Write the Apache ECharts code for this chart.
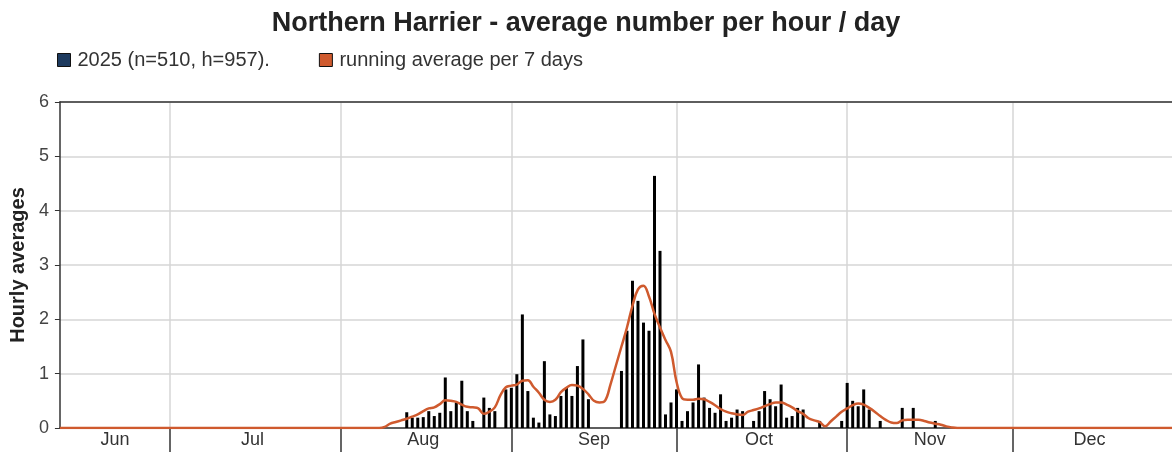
<!DOCTYPE html>
<html>
<head>
<meta charset="utf-8">
<script src="https://cdn.jsdelivr.net/npm/echarts@6/dist/echarts.min.js"></script>
<style>
  html, body { margin: 0; padding: 0; background: #fff; }
  #chart { width: 1172px; height: 452px; }
</style>
</head>
<body>
<div id="chart"></div>
<script>
// daily counts (hourly averages)
const barDays = [
  '08-13', '08-14', '08-15', '08-16', '08-17', '08-18', '08-19', '08-20', '08-21', '08-22', '08-23', '08-24', '08-25',
  '08-27', '08-28', '08-29', '08-31',
  '09-01', '09-02', '09-03', '09-04', '09-05', '09-06', '09-07', '09-08', '09-09', '09-10', '09-11', '09-12', '09-13', '09-14', '09-15',
  '09-21', '09-22', '09-23', '09-24', '09-25', '09-26', '09-27', '09-28', '09-29', '09-30',
  '10-01', '10-02', '10-03', '10-04', '10-05', '10-06', '10-07', '10-08', '10-09', '10-10', '10-11', '10-12', '10-13',
  '10-15', '10-16', '10-17', '10-18', '10-19', '10-20', '10-21', '10-22', '10-23', '10-24', '10-27', '10-31',
  '11-01', '11-02', '11-03', '11-04', '11-05', '11-07', '11-11', '11-13', '11-17'
]
const barValues = [
  0.29, 0.19, 0.19, 0.20, 0.31, 0.22, 0.28, 0.93, 0.31, 0.47, 0.87, 0.31, 0.13,
  0.56, 0.37, 0.31, 0.71,
  0.74, 0.99, 2.09, 0.68, 0.19, 0.10, 1.23, 0.25, 0.22, 0.59, 0.74, 0.59, 1.14, 1.63, 0.53,
  1.05, 1.79, 2.71, 2.34, 1.94, 1.79, 4.64, 3.26, 0.25, 0.47,
  0.71, 0.13, 0.31, 0.47, 1.17, 0.56, 0.37, 0.28, 0.62, 0.13, 0.19, 0.34, 0.31,
  0.13, 0.31, 0.68, 0.53, 0.40, 0.80, 0.19, 0.22, 0.37, 0.34, 0.13, 0.13,
  0.83, 0.50, 0.40, 0.71, 0.34, 0.13, 0.37, 0.37, 0.13
]

// running average line
const avgDays = [
  '06-11', '08-08', '08-09', '08-10', '08-11', '08-12', '08-13', '08-14', '08-15', '08-16', '08-17', '08-18', '08-19', '08-20',
  '08-21', '08-22', '08-23', '08-24', '08-25', '08-26', '08-27', '08-28', '08-29', '08-30', '08-31',
  '09-01', '09-02', '09-03', '09-04', '09-05', '09-06', '09-07', '09-08', '09-09', '09-10', '09-11', '09-12', '09-13', '09-14', '09-15',
  '09-16', '09-17', '09-18', '09-19', '09-20', '09-21', '09-22', '09-23', '09-24', '09-25', '09-26', '09-27', '09-28', '09-29', '09-30',
  '10-01', '10-02', '10-03', '10-04', '10-05', '10-06', '10-07', '10-08', '10-09', '10-10', '10-11', '10-12', '10-13', '10-14', '10-15',
  '10-16', '10-17', '10-18', '10-19', '10-20', '10-21', '10-22', '10-23', '10-24', '10-25', '10-26', '10-27', '10-28', '10-29', '10-30', '10-31',
  '11-01', '11-02', '11-03', '11-04', '11-05', '11-06', '11-07', '11-08', '11-09', '11-10', '11-11', '11-12', '11-13', '11-14', '11-15',
  '11-16', '11-17', '11-18', '11-19', '11-20', '11-21', '12-30'
]
const avgValues = [
  0, 0, 0.02, 0.08, 0.11, 0.14, 0.17, 0.21, 0.25, 0.31, 0.36, 0.38, 0.44, 0.51,
  0.50, 0.48, 0.43, 0.39, 0.38, 0.36, 0.26, 0.30, 0.38, 0.60, 0.75,
  0.78, 0.80, 0.87, 0.88, 0.76, 0.65, 0.52, 0.48, 0.52, 0.66, 0.74, 0.79, 0.78, 0.72, 0.62,
  0.50, 0.47, 0.50, 0.80, 1.15, 1.50, 1.85, 2.25, 2.55, 2.62, 2.42, 2.10, 1.85, 1.62, 1.40,
  0.85, 0.55, 0.52, 0.52, 0.54, 0.53, 0.48, 0.42, 0.35, 0.30, 0.27, 0.25, 0.24, 0.30, 0.33,
  0.36, 0.40, 0.44, 0.47, 0.47, 0.43, 0.38, 0.31, 0.26, 0.18, 0.14, 0.11, 0.03, 0.12, 0.21, 0.30,
  0.36, 0.42, 0.45, 0.43, 0.37, 0.30, 0.22, 0.15, 0.10, 0.09, 0.14, 0.15, 0.15, 0.15, 0.13,
  0.10, 0.08, 0.06, 0.03, 0.01, 0, 0
]

const monthNames = ['Jan', 'Feb', 'Mar', 'Apr', 'May', 'Jun', 'Jul', 'Aug', 'Sep', 'Oct', 'Nov', 'Dec']
// day on which each month label sits (middle of the visible part)
const labelDays = ['06-21', '07-16', '08-16', '09-16', '10-16', '11-16', '12-15']

// x categories: one per day, 11 Jun .. 30 Dec
const days = []
for (let t = Date.UTC(2025, 5, 11); t <= Date.UTC(2025, 11, 30); t += 86400000) {
  const d = new Date(t)
  days.push(String(d.getUTCMonth() + 1).padStart(2, '0') + '-' + String(d.getUTCDate()).padStart(2, '0'))
}
const isMonthStart = (i, v) => v.endsWith('-01')

const font = "'Liberation Sans', Arial, sans-serif"
const chart = echarts.init(document.getElementById('chart'))
chart.setOption({
  animation: false,
  textStyle: { fontFamily: font },
  title: {
    text: 'Northern Harrier - average number per hour / day',
    left: 'center',
    top: 5,
    textStyle: { fontSize: 27, fontWeight: 'bold', color: '#222', fontFamily: font }
  },
  legend: {
    left: 57,
    top: 50,
    padding: 0,
    icon: 'rect',
    itemWidth: 13,
    itemHeight: 13,
    itemGap: 49,
    textStyle: { fontSize: 20, color: '#333', fontFamily: font, padding: [0, 0, 0, 2] },
    data: [
      { name: '2025 (n=510, h=957).', itemStyle: { color: '#1d3a5e', borderColor: '#111', borderWidth: 1 } },
      { name: 'running average per 7 days', itemStyle: { color: '#cf5a2e', borderColor: '#111', borderWidth: 1 } }
    ]
  },
  grid: { left: 59, right: 0, top: 102, bottom: 24 },
  xAxis: [{
    type: 'category',
    data: days,
    boundaryGap: false,
    axisLine: { lineStyle: { color: '#333', width: 1.5 } },
    axisTick: { interval: isMonthStart, length: 24, lineStyle: { color: '#333', width: 1.5 } },
    splitLine: { show: true, interval: isMonthStart, lineStyle: { color: '#d6d6d6', width: 1.5 } },
    axisLabel: {
      interval: (i, v) => labelDays.includes(v),
      formatter: v => monthNames[parseInt(v.slice(0, 2), 10) - 1],
      margin: 3,
      fontSize: 18,
      color: '#333',
      fontFamily: font
    }
  }, {
    // top border line only
    type: 'value',
    position: 'top',
    min: 0,
    max: 1,
    axisLine: { show: true, lineStyle: { color: '#333', width: 1.5 } },
    axisTick: { show: false },
    axisLabel: { show: false },
    splitLine: { show: false }
  }],
  yAxis: {
    type: 'value',
    min: 0,
    max: 6,
    interval: 1,
    name: 'Hourly averages',
    nameLocation: 'middle',
    nameGap: 31,
    nameTextStyle: { fontSize: 20, fontWeight: 'bold', color: '#222', fontFamily: font },
    axisLine: { show: true, lineStyle: { color: '#333', width: 1.5 } },
    axisTick: { show: true, length: 5, lineStyle: { color: '#333' } },
    axisLabel: { margin: 11, fontSize: 18, color: '#444', fontFamily: font },
    splitLine: { lineStyle: { color: '#d6d6d6', width: 1.5 } }
  },
  series: [{
    name: '2025 (n=510, h=957).',
    type: 'bar',
    barWidth: 3,
    itemStyle: { color: '#000' },
    data: barDays.map((d, i) => [d, barValues[i]])
  }, {
    name: 'running average per 7 days',
    type: 'line',
    smooth: 0.4,
    showSymbol: false,
    lineStyle: { color: '#cf5a2e', width: 2.5 },
    itemStyle: { color: '#cf5a2e' },
    data: avgDays.map((d, i) => [d, avgValues[i]])
  }]
})
</script>
</body>
</html>
